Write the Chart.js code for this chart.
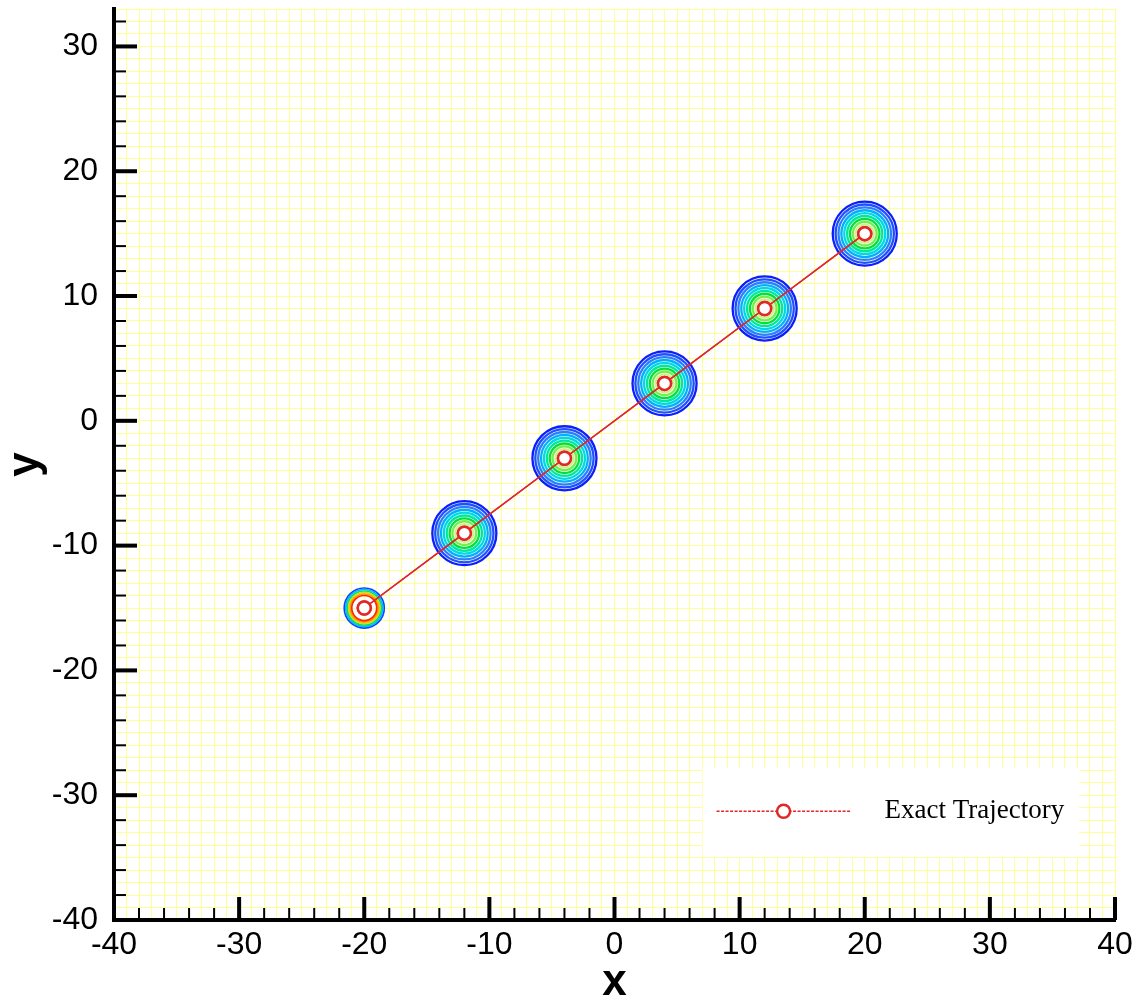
<!DOCTYPE html>
<html>
<head>
<meta charset="utf-8">
<script src="https://cdn.jsdelivr.net/npm/chart.js@4/dist/chart.umd.min.js"></script>
<style>
  body { margin: 0; background: #fff; }
  #wrap { width: 1148px; height: 1006px; }
</style>
</head>
<body>
<div id="wrap"><canvas id="plot"></canvas></div>
<script>
// sampled positions along the exact trajectory
const trackX = [-20, -12, -4, 4, 12, 20];
const trackY = [-15, -9, -3, 3, 9, 15];
const trackLabel = "Exact Trajectory";

// contour levels around each sample, outer ring first (data units)
const firstRings = [1.6, 1.48, 1.36, 1.24, 1.12, 1.0];
const laterRings = [2.56, 2.33, 2.1, 1.87, 1.64, 1.41, 1.18, 0.95, 0.72];

const firstColors = ["#1040ff", "#00b8ff", "#00e070", "#d0e000", "#ff9800", "#ff2800"];
const laterColors = ["#0a1eff", "#1e50ff", "#2c7dff", "#00b0ff", "#00d8e8", "#00e8a0", "#00e040", "#70f050", "#d0f090"];

const xLabels = [-40, -30, -20, -10, 0, 10, 20, 30, 40];
const yLabels = [-40, -30, -20, -10, 0, 10, 20, 30];

function unitsToPx(chart, r) {
  const s = chart.scales.x;
  return Math.abs(s.getPixelForValue(r) - s.getPixelForValue(0));
}

const contourSets = trackX.map((cx, i) => {
  const rings = i === 0 ? firstRings : laterRings;
  const colors = i === 0 ? firstColors : laterColors;
  return {
    type: "scatter",
    label: "contour " + (i + 1),
    data: rings.map((r) => ({ x: cx, y: trackY[i], r })),
    pointStyle: "circle",
    pointRadius: (ctx) => unitsToPx(ctx.chart, ctx.raw.r),
    pointBorderColor: colors,
    pointBackgroundColor: "rgba(0,0,0,0)",
    pointBorderWidth: i === 0 ? 1.7 : 2.3,
  };
});

const lineSet = {
  type: "scatter",
  label: trackLabel,
  data: trackX.map((x, i) => ({ x, y: trackY[i] })),
  showLine: true,
  borderColor: "#e02828",
  borderWidth: 1.5,
  pointStyle: "circle",
  pointRadius: 6.5,
  pointBorderWidth: 2.5,
  pointBorderColor: "#e02828",
  pointBackgroundColor: "#fff",
};

// inward ticks on the left and bottom axes
const axisTicks = {
  id: "axisTicks",
  afterDraw(chart) {
    const { ctx, chartArea: a, scales } = chart;
    const { x, y } = scales;
    ctx.save();
    ctx.strokeStyle = "#000";
    for (let v = -40; v <= x.max; v += 2) {
      const major = v % 10 === 0;
      const px = x.getPixelForValue(v);
      ctx.lineWidth = major ? 4 : 2;
      ctx.beginPath();
      ctx.moveTo(px, a.bottom);
      ctx.lineTo(px, a.bottom - (major ? 23 : 12));
      ctx.stroke();
    }
    for (let v = -40; v <= y.max; v += 2) {
      const major = v % 10 === 0;
      const py = y.getPixelForValue(v);
      ctx.lineWidth = major ? 4 : 2;
      ctx.beginPath();
      ctx.moveTo(a.left, py);
      ctx.lineTo(a.left + (major ? 23 : 12), py);
      ctx.stroke();
    }
    ctx.restore();

    // grid sits above the contours, so put the trajectory back on top
    chart.getDatasetMeta(0).controller.draw();
  },
};

// boxed legend in the lower right of the plot
const boxLegend = {
  id: "boxLegend",
  afterDraw(chart) {
    const { ctx, chartArea: a } = chart;
    const w = a.right - a.left;
    const h = a.bottom - a.top;
    const left = a.left + 0.588 * w;
    const top = a.top + 0.833 * h;
    const bw = 0.376 * w;
    const bh = 0.098 * h;
    const ds = chart.data.datasets[0];
    const ly = top + bh * 0.485;

    ctx.save();
    ctx.fillStyle = "#fff";
    ctx.fillRect(left, top, bw, bh);

    ctx.strokeStyle = ds.borderColor;
    ctx.lineWidth = 1.5;
    ctx.setLineDash([3, 1.5]);
    ctx.beginPath();
    ctx.moveTo(left + 14, ly);
    ctx.lineTo(left + 148, ly);
    ctx.stroke();
    ctx.setLineDash([]);

    ctx.lineWidth = ds.pointBorderWidth;
    ctx.fillStyle = "#fff";
    ctx.beginPath();
    ctx.arc(left + 81, ly, ds.pointRadius, 0, Math.PI * 2);
    ctx.fill();
    ctx.stroke();

    ctx.fillStyle = "#000";
    ctx.font = "27px 'Liberation Serif', 'Times New Roman', serif";
    ctx.textBaseline = "middle";
    ctx.textAlign = "left";
    ctx.fillText(ds.label, left + 182, ly);
    ctx.restore();
  },
};

const tickFont = { family: "'Liberation Sans', Arial, sans-serif", size: 32 };
const titleFont = { family: "'Liberation Sans', Arial, sans-serif", size: 44, weight: "bold", lineHeight: 1.0 };

new Chart(document.getElementById("plot"), {
  type: "scatter",
  data: { datasets: [lineSet, ...contourSets] },
  plugins: [axisTicks, boxLegend],
  options: {
    responsive: true,
    maintainAspectRatio: false,
    animation: false,
    events: [],
    layout: { padding: { left: 0, right: 33, top: 8, bottom: 0 } },
    plugins: {
      legend: { display: false },
      tooltip: { enabled: false },
    },
    scales: {
      x: {
        type: "linear",
        min: -40,
        max: 40,
        z: 1,
        afterFit: (s) => {
          s.height = 86;
          s.paddingLeft = 0;
          s.paddingRight = 0;
        },
        grid: { color: "#ffff99", lineWidth: 1, drawTicks: false },
        border: { display: true, color: "#000", width: 4 },
        ticks: {
          stepSize: 1,
          autoSkip: false,
          maxRotation: 0,
          minRotation: 0,
          padding: 6,
          color: "#000",
          font: tickFont,
          callback: (v) => (xLabels.includes(v) ? String(v) : ""),
        },
        title: {
          display: true,
          text: "x",
          color: "#000",
          font: titleFont,
          padding: { top: 0, bottom: 1 },
        },
      },
      y: {
        type: "linear",
        min: -40,
        max: 33,
        z: 1,
        afterFit: (s) => {
          s.width = 114;
          s.paddingTop = 0;
          s.paddingBottom = 0;
        },
        grid: { color: "#ffff99", lineWidth: 1, drawTicks: false },
        border: { display: true, color: "#000", width: 4 },
        ticks: {
          stepSize: 1,
          autoSkip: false,
          padding: 16,
          color: "#000",
          font: tickFont,
          callback: (v) => (yLabels.includes(v) ? String(v) : ""),
        },
        title: {
          display: true,
          text: "y",
          color: "#000",
          font: titleFont,
          padding: { top: 4, bottom: 0 },
        },
      },
    },
  },
});
</script>
</body>
</html>
